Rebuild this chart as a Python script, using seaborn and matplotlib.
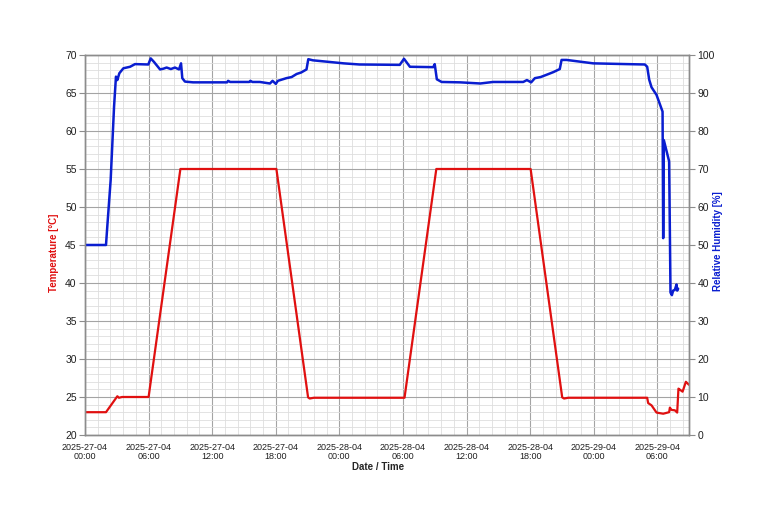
import pandas as pd
import matplotlib
matplotlib.use("Agg")
import matplotlib.pyplot as plt
import matplotlib.dates as mdates
from matplotlib.ticker import MultipleLocator
import seaborn as sns

# measurement log, hours from 2025-04-27 00:00
start = pd.Timestamp("2025-04-27 00:00")

temp_hours = [0, 1.98, 3.05, 3.2, 3.5, 6.0, 9.0, 18.06, 21.05, 21.2, 21.6, 30.15,
              33.15, 42.05, 45.03, 45.2, 45.6, 53.05, 53.14, 53.46, 53.93, 54.56,
              55.12, 55.19, 55.35, 55.66, 55.88, 56.0, 56.1, 56.39, 56.7, 56.92, 57.0]
temp_vals = [23.0, 23.0, 25.1, 24.9, 25.0, 25.0, 55.0, 55.0, 24.95, 24.8, 24.9, 24.9,
             55.0, 55.0, 24.95, 24.8, 24.9, 24.9, 24.2, 23.9, 22.95, 22.8,
             23.0, 23.6, 23.3, 23.25, 22.95, 26.1, 26.0, 25.7, 27.0, 26.7, 26.6]

rh_hours = [0, 1.98, 2.1, 2.42, 2.74, 2.92, 3.05, 3.24, 3.62, 4.25, 4.72, 5.97, 6.2,
            6.5, 7.08, 7.4, 7.7, 8.1, 8.49, 8.87, 9.06, 9.18, 9.43, 10.2, 13.4, 13.5,
            13.7, 15.5, 15.6, 15.8, 16.5, 17.45, 17.7, 18.0, 18.2, 19.0, 19.5, 19.97,
            20.4, 20.9, 21.07, 21.5, 24.4, 25.9, 29.7, 30.1, 30.66, 32.86, 33.0, 33.2,
            33.65, 35.4, 37.3, 38.5, 41.35, 41.7, 42.1, 42.45, 43.0, 43.56, 44.2, 44.8,
            44.97, 45.44, 47.95, 51.1, 52.83, 53.05, 53.24, 53.46, 53.93, 54.5, 54.56,
            54.62, 55.12, 55.25, 55.38, 55.5, 55.66, 55.82, 55.88, 55.97]
rh_vals = [50.0, 50.0, 54.8, 67.1, 86.4, 94.3, 93.4, 95.2, 96.5, 96.9, 97.6, 97.5, 99.1,
           98.2, 96.2, 96.4, 96.7, 96.3, 96.7, 96.2, 97.8, 93.9, 93.0, 92.8, 92.8, 93.2,
           92.9, 92.9, 93.2, 92.9, 92.9, 92.5, 93.2, 92.4, 93.2, 93.9, 94.2, 95.0,
           95.4, 96.2, 98.9, 98.6, 97.8, 97.5, 97.4, 99.0, 96.9, 96.8, 97.6, 93.6,
           92.9, 92.8, 92.5, 92.9, 92.9, 93.4, 92.8, 93.9, 94.2, 94.8, 95.5, 96.3,
           98.7, 98.7, 97.8, 97.6, 97.5, 96.9, 93.5, 91.5, 89.5, 85.1, 51.8,
           77.6, 72.0, 37.5, 36.8, 38.0, 38.2, 39.6, 38.0, 38.5]

temp_df = pd.DataFrame({"time": start + pd.to_timedelta(temp_hours, unit="h"), "temp": temp_vals})
rh_df = pd.DataFrame({"time": start + pd.to_timedelta(rh_hours, unit="h"), "rh": rh_vals})

sns.set_style("white")
plt.rcParams["font.family"] = ["Liberation Sans", "DejaVu Sans"]

red = "#e01010"
blue = "#0a1ed0"

fig = plt.figure(figsize=(7.68, 5.12), dpi=100)
ax = fig.add_axes([0.1107, 0.1504, 0.7865, 0.7422])
ax2 = ax.twinx()

sns.lineplot(data=temp_df, x="time", y="temp", ax=ax, color=red, lw=1.6, estimator=None)
sns.lineplot(data=rh_df, x="time", y="rh", ax=ax2, color=blue, lw=1.8, estimator=None)

ax.set_xlim(start, start + pd.Timedelta(hours=57))
ax.set_ylim(20, 70)
ax2.set_ylim(0, 100)

ax.xaxis.set_major_locator(mdates.HourLocator(byhour=[0, 6, 12, 18]))
ax.xaxis.set_major_formatter(mdates.DateFormatter("%Y-%d-%m\n%H:%M"))
ax.xaxis.set_minor_locator(MultipleLocator(0.05))
ax.yaxis.set_major_locator(MultipleLocator(5))
ax.yaxis.set_minor_locator(MultipleLocator(1))
ax2.yaxis.set_major_locator(MultipleLocator(10))

ax.grid(which="major", color="#a4a4a4", lw=0.8)
ax.grid(which="minor", color="#dedede", lw=0.6)
ax.set_axisbelow(True)

for a in (ax, ax2):
    for s in a.spines.values():
        s.set_color("#8c8c8c")
        s.set_linewidth(1.0)
ax.tick_params(axis="x", which="major", labelsize=6.5, length=4, color="#8c8c8c", pad=2,
               labelcolor="#202020")
ax.tick_params(axis="y", which="major", labelsize=7.5, length=4, color="#8c8c8c", pad=2,
               left=True, labelcolor="#202020")
ax.tick_params(which="minor", length=0)
ax2.tick_params(axis="y", labelsize=7.5, length=4, color="#8c8c8c", pad=2, right=True,
                labelcolor="#202020")

for lab in ax.get_xticklabels():
    lab.set_linespacing(1.0)

ax.set_xlabel("Date / Time", fontsize=7, fontweight="bold")
ax.xaxis.set_label_coords(0.485, -0.072)
ax.set_ylabel("Temperature [°C]", fontsize=7, fontweight="bold", color=red)
ax.yaxis.set_label_coords(-0.043, 0.48)
ax2.set_ylabel("Relative Humidity [%]", fontsize=7, fontweight="bold", color=blue)
ax2.yaxis.set_label_coords(1.04, 0.51)

fig.savefig("out.png", dpi=100)
